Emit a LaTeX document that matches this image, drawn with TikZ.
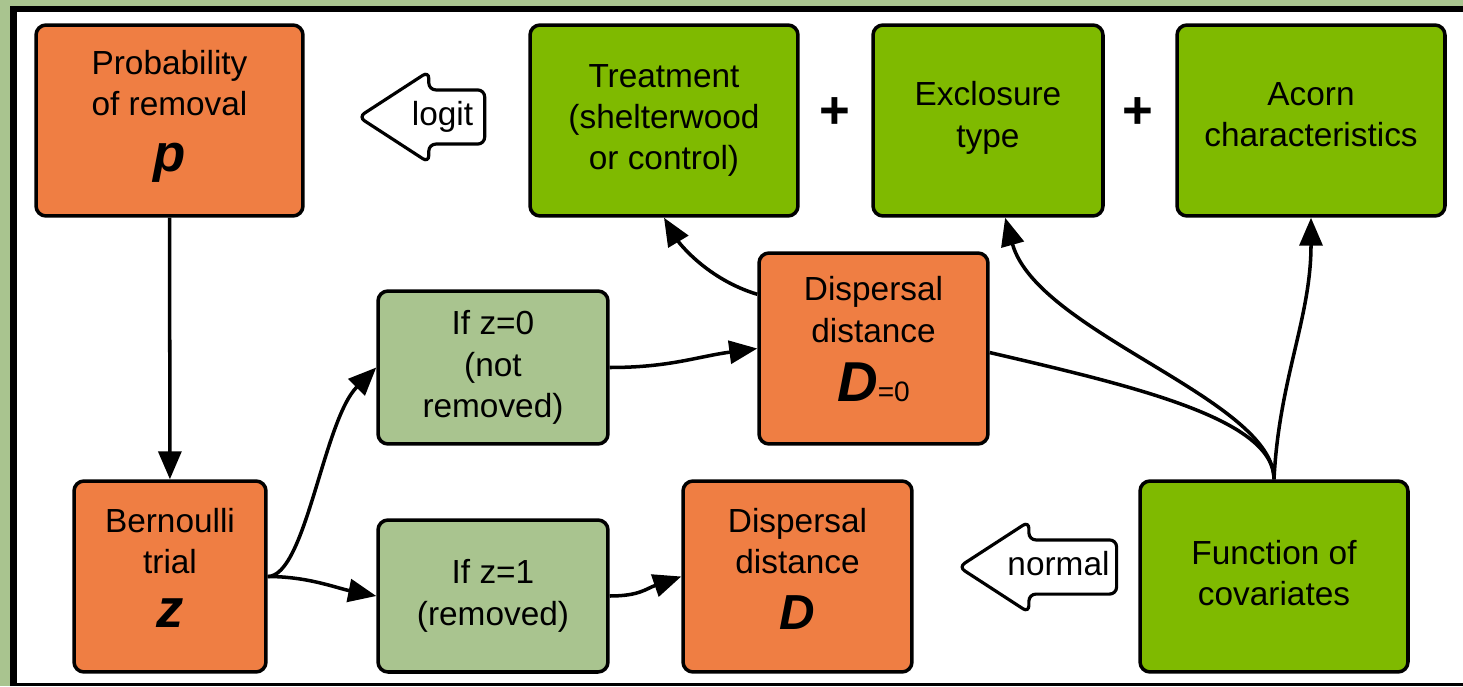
\documentclass[tikz,border=0pt]{standalone}
\usepackage{fontspec}
\setmainfont{Liberation Sans}
\usetikzlibrary{arrows.meta, shapes.arrows}

\definecolor{boxorange}{RGB}{239,126,67}
\definecolor{boxgreen}{RGB}{127,186,0}
\definecolor{palegreen}{RGB}{169,196,143}

% bold italic model variable
\newcommand{\modelvar}[2]{{\fontsize{#1}{#1}\selectfont\bfseries\itshape #2}}
% extra depth under the last line, lifts the text block
\newcommand{\lift}[1]{\rule[-#1]{0pt}{#1}}

\begin{document}
\begin{tikzpicture}[x=0.02cm, y=-0.02cm, >={Triangle[length=0.56cm, width=0.46cm]},
    every node/.style={font=\fontsize{19}{23.5}\selectfont},
    box/.style={draw, line width=2pt, rounded corners=0.2cm, align=center,
        inner sep=0pt, minimum width=#1, minimum height=3.82cm},
    box/.default=5.36cm,
    outbox/.style={box=#1, fill=boxorange},
    outbox/.default=4.58cm,
    covbox/.style={box=#1, fill=boxgreen},
    covbox/.default=5.36cm,
    ifbox/.style={box=4.6cm, fill=palegreen, minimum height=3.06cm},
    link/.style={->, line width=2pt},
    flowarrow/.style={single arrow, shape border rotate=180, draw, fill=white,
        line width=1.8pt, rounded corners=4pt, single arrow head extend=0.37cm,
        single arrow tip angle=66, inner xsep=#1, inner ysep=0.2cm,
        text height=0.48cm, text depth=0.14cm},
    flowarrow/.default=0.2cm]

    \useasboundingbox (0,0) rectangle (1463,686);
    % frame
    \fill[palegreen] (0,0) rectangle (1463,686);
    \fill[black] (10,6) rectangle (1463,686);
    \fill[white] (17,12) rectangle (1463,682.5);

    % model nodes
    \node[outbox=5.34cm] (prob) at (169.5,120.5) {Probability\\of removal\\[8pt]\modelvar{30}{p}\lift{11pt}};
    \node[outbox=3.84cm] (bern) at (170,576.5) {Bernoulli\\trial\\[7pt]\modelvar{31}{z}\lift{10pt}};
    \node[ifbox] (ifzero) at (493,367.5) {If z=0\\(not\\removed)};
    \node[ifbox, minimum height=3.04cm] (ifone) at (493,596) {If z=1\\(removed)};
    \node[outbox] (dzero) at (873.5,348.5) {Dispersal\\distance\\[10pt]\modelvar{32}{D}{\fontsize{16}{16}\selectfont=0}\lift{11pt}};
    \node[outbox] (dist) at (797.5,576.5) {Dispersal\\distance\\[8pt]\modelvar{28}{D}\lift{9pt}};

    % covariates
    \node[covbox] (treat) at (664,120.5) {Treatment\\(shelterwood\\or control)};
    \node[covbox=4.6cm] (excl) at (988,120.5) {Exclosure\\type\lift{7pt}};
    \node[covbox] (acorn) at (1311,120.5) {Acorn\\characteristics\lift{7pt}};
    \node[covbox] (cov) at (1274,576.5) {Function of\\covariates\lift{4.5pt}};
    \node[font=\fontsize{30}{30}\selectfont\bfseries] (plusa) at (835,113) {+};
    \node[font=\fontsize{30}{30}\selectfont\bfseries] (plusb) at (1138,113) {+};

    % link functions
    \node[flowarrow] (logit) at (442.5,117) {logit};
    \node[flowarrow=0.11cm] (normal) at (1058.5,567) {normal};

    % connectors
    \draw[link] (prob) -- (bern);
    \draw[link] (bern.east) .. controls +(38,0) and +(-53,53) .. (ifzero.west);
    \draw[link] (bern.east) .. controls +(40,0) and +(-40,-8) .. (ifone.west);
    \draw[link] (ifzero.east) .. controls +(60,0) and +(-60,8) .. (dzero.west);
    \draw[link] (ifone.east) .. controls +(30,0) and +(-35,12) .. (dist.west);
    \draw[link] (dzero.155) .. controls +(-50,-15) and +(15,25) .. (treat.south);
    \draw[line width=2pt] (cov.north) .. controls +(0,-60) and +(146,34) .. (dzero.-2);
    \draw[link] (cov.north) .. controls +(0,-80) and +(32,115) .. (excl.-80);
    \draw[link] (cov.north) .. controls +(5,-100) and +(0,100) .. (acorn.south);
\end{tikzpicture}
\end{document}
